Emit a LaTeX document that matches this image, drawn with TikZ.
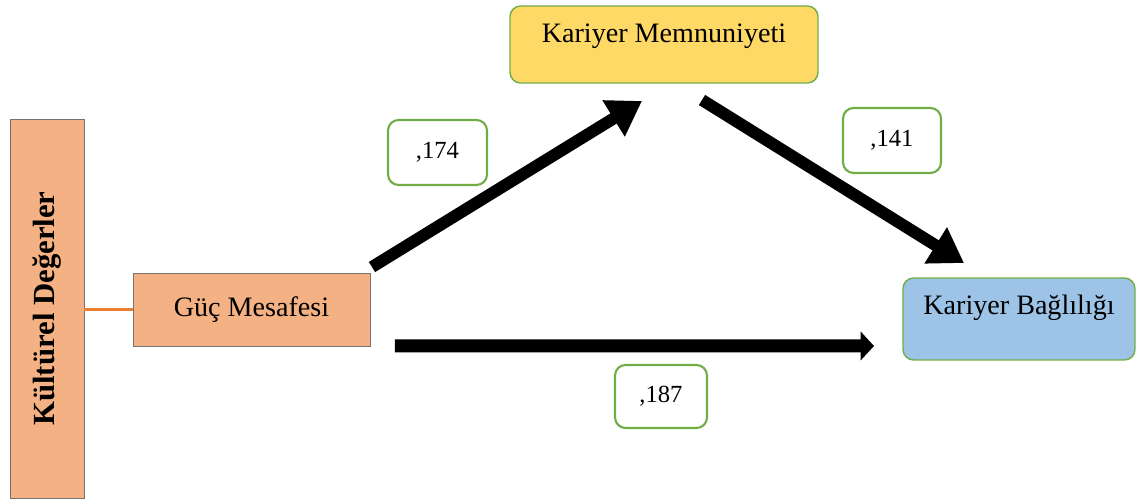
\documentclass[tikz,border=0pt]{standalone}
\usepackage{fontspec}
\setmainfont{Liberation Serif}
\usepackage{xcolor}
\usepackage{tikz}
\usetikzlibrary{positioning,arrows.meta}
\definecolor{salmon}{HTML}{F4B183}
\definecolor{gold}{HTML}{FFD966}
\definecolor{skyblue}{HTML}{9DC3E6}
\definecolor{leaf}{HTML}{70AD47}
\definecolor{tangerine}{HTML}{ED7D31}

\begin{document}
\begin{tikzpicture}[
  x=0.02cm, y=0.02cm,
  box/.style={draw=black!55, fill=salmon, inner sep=0pt, outer sep=0pt, align=center, font=\fontsize{16}{19}\selectfont},
  rbox/.style={box, draw=leaf, line width=0.8pt, rounded corners=6pt, text height=11pt},
  coef/.style={draw=leaf, line width=1.2pt, fill=white, rounded corners=6pt, inner sep=0pt, font=\fontsize{14}{17}\selectfont},
  arrow/.style={line width=6.8pt, -{Triangle[length=19pt, width=23pt]}},
  flat/.style={line width=7.4pt, -{Triangle[length=7.6pt, width=16pt]}},
]
\useasboundingbox (0,0) rectangle (1137,500);

\node[box, minimum width=1.48cm, minimum height=7.58cm] (kd) at (47,191.5)
  {\rotatebox{90}{\bfseries\fontsize{17.5}{20}\selectfont Kültürel Değerler}};
\node[box, minimum width=4.74cm, minimum height=1.46cm] (guc) at (251.5,190.5) {Güç Mesafesi};
\node[rbox, fill=gold, minimum width=6.16cm, minimum height=1.54cm, text depth=13pt] (memn) at (664,455.5) {Kariyer Memnuniyeti};
\node[rbox, fill=skyblue, minimum width=4.64cm, minimum height=1.64cm, text depth=16pt] (kb) at (1019,181) {Kariyer Bağlılığı};

\node[coef, minimum width=1.98cm, minimum height=1.30cm] (c174) at (437.5,347.5) {,174};
\node[coef, minimum width=1.96cm, minimum height=1.30cm] (c141) at (892,359.5) {,141};
\node[coef, minimum width=1.84cm, minimum height=1.26cm] (c187) at (661,103.5) {,187};

\draw[draw=tangerine, line width=1.2pt] (kd.east |- guc.west) -- (guc.west);
\draw[arrow] ([shift={(2,6)}]guc.north east) -- ([shift={(-22,-18)}]memn.south);
\draw[arrow] ([shift={(38,-17)}]memn.south) -- ([shift={(61,15)}]kb.north west);
\draw[flat] ([shift={(25,0)}]guc.south east) -- ([shift={(-29,14)}]kb.south west);
\end{tikzpicture}
\end{document}
